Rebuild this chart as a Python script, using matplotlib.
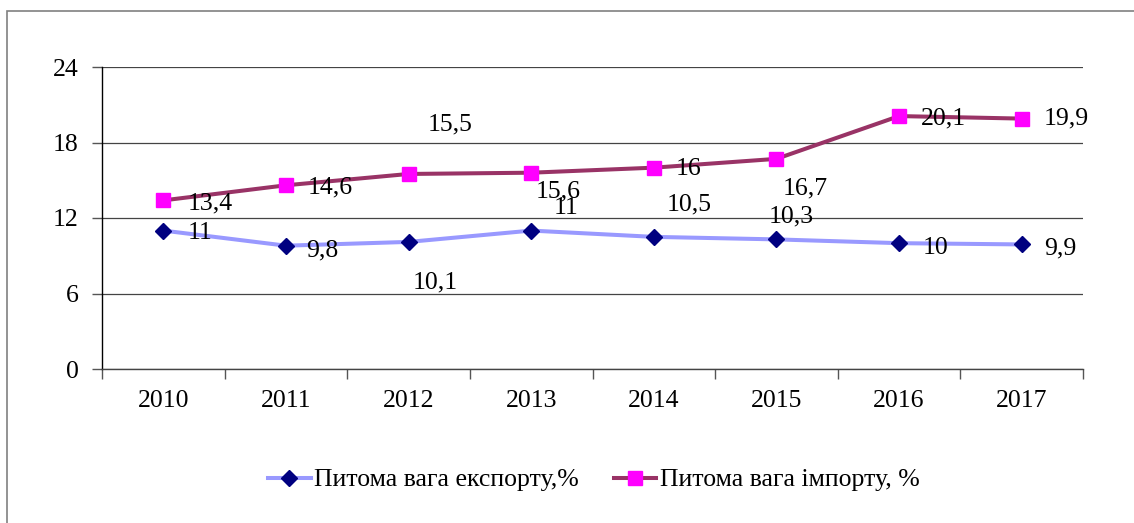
import matplotlib
matplotlib.use("Agg")
import matplotlib.pyplot as plt
from matplotlib.patches import Rectangle
from matplotlib.ticker import FixedLocator

years = ["2010", "2011", "2012", "2013", "2014", "2015", "2016", "2017"]
export_share = [11, 9.8, 10.1, 11, 10.5, 10.3, 10, 9.9]
import_share = [13.4, 14.6, 15.5, 15.6, 16, 16.7, 20.1, 19.9]
export_labels = ["11", "9,8", "10,1", "11", "10,5", "10,3", "10", "9,9"]
import_labels = ["13,4", "14,6", "15,5", "15,6", "16", "16,7", "20,1", "19,9"]
export_name = "Питома вага експорту,%"
import_name = "Питома вага імпорту, %"
y_ticks = [0, 6, 12, 18, 24]

# label offsets in pixels (left edge of text relative to marker, y up)
export_off = [(24, -2), (20, -5), (4, -41), (22, 23), (13, 32), (-8, 23), (24, -5), (22, -4)]
import_off = [(24, -3), (22, -2), (19, 50), (4, -19), (22, -1), (6, -30), (22, -2), (22, 0)]

plt.rcParams['font.family'] = ['Liberation Serif', 'DejaVu Serif']
FS = 18.5

fig = plt.figure(figsize=(11.34, 5.23), dpi=100)
W, H = 1134, 523
ax = fig.add_axes([102 / W, (H - 369) / H, (1083 - 102) / W, (369 - 67) / H])

x = list(range(len(years)))
l1, = ax.plot(x, export_share, color='#9999FF', lw=2.9, marker='D', ms=7.8,
              mfc='#000080', mec='#000080', zorder=3, solid_joinstyle='round')
l2, = ax.plot(x, import_share, color='#993366', lw=2.9, marker='s', ms=10.5,
              mfc='#FF00FF', mec='#FF00FF', zorder=3, solid_joinstyle='round')

for xi, v, t, (dx, dy) in zip(x, export_share, export_labels, export_off):
    ax.annotate(t, (xi, v), xytext=(dx, dy), textcoords='offset pixels',
                ha='left', va='center', fontsize=FS, zorder=4)
for xi, v, t, (dx, dy) in zip(x, import_share, import_labels, import_off):
    ax.annotate(t, (xi, v), xytext=(dx, dy), textcoords='offset pixels',
                ha='left', va='center', fontsize=FS, zorder=4)

ax.set_xlim(-0.5, len(years) - 0.5)
ax.set_ylim(0, 24)
ax.set_yticks(y_ticks)
ax.set_yticklabels([str(t) for t in y_ticks], fontsize=FS)
ax.set_xticks(x)
ax.set_xticklabels(years, fontsize=FS)
ax.xaxis.set_minor_locator(FixedLocator([i - 0.5 for i in range(len(years) + 1)]))
ax.tick_params(axis='x', which='major', length=0, pad=15)
ax.tick_params(axis='x', which='minor', length=7, width=1, color='#555555', direction='out')
ax.tick_params(axis='y', length=7, width=1, color='#555555', direction='out', pad=10)

ax.grid(axis='y', color='#444444', lw=0.9, zorder=0)
for s in ['top', 'right']:
    ax.spines[s].set_visible(False)
ax.spines['left'].set_color('black')
ax.spines['left'].set_linewidth(1)
ax.spines['bottom'].set_color('#444444')
ax.spines['bottom'].set_linewidth(1)
ax.set_axisbelow(True)

fig.legend([l1, l2], [export_name, import_name], loc='center',
           bbox_to_anchor=(594 / W, 1 - 480 / H), ncol=2, frameon=False,
           fontsize=FS, handlelength=1.65, handletextpad=0.15, columnspacing=1.35)

fig.patches.append(Rectangle((7 / W, -0.1), 1.2, (H - 11) / H + 0.1,
                             transform=fig.transFigure, fill=False,
                             edgecolor='#808080', lw=1.2))

fig.savefig('out.png', dpi=100)
